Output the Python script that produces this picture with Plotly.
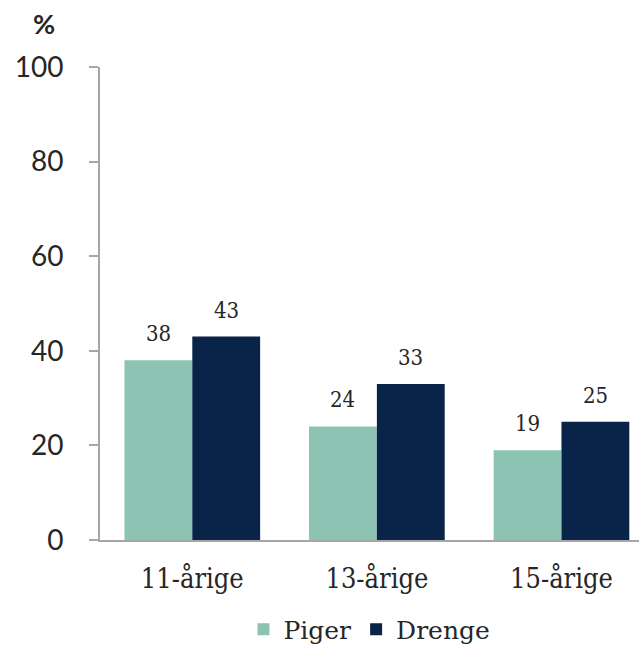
import plotly.graph_objects as go

categories = ["11-årige", "13-årige", "15-årige"]
piger = [38, 24, 19]
drenge = [43, 33, 25]
y_ticks = [0, 20, 40, 60, 80, 100]

serif = "DejaVu Serif Condensed, DejaVu Serif, serif"
sans = "Lato"
c_piger = "#8CC3B2"
c_drenge = "#0A2449"
axis_gray = "#A6A6A6"
txt = "#262626"

fig = go.Figure()
fig.add_trace(go.Bar(name="Piger", x=categories, y=piger, marker=dict(color=c_piger, line=dict(width=0))))
fig.add_trace(go.Bar(name="Drenge", x=categories, y=drenge, marker=dict(color=c_drenge, line=dict(width=0))))

# data labels
for i, cat in enumerate(categories):
    for vals, shift in ((piger, -34), (drenge, 34)):
        fig.add_annotation(x=cat, y=vals[i], xref="x", yref="y", text=str(vals[i]),
                           showarrow=False, xshift=shift, yshift=12, yanchor="bottom",
                           font=dict(family=serif, size=22, color=txt))

fig.add_annotation(xref="paper", yref="paper", x=-0.104, y=1.091, xanchor="center", yanchor="middle",
                   text="<b>%</b>", showarrow=False, font=dict(family=sans, size=27, color=txt))

fig.update_layout(
    width=639, height=649,
    margin=dict(l=100, r=0, t=67, b=109, autoexpand=False),
    paper_bgcolor="white", plot_bgcolor="white",
    font=dict(family=serif, color=txt),
    barmode="group", bargap=0.265, bargroupgap=0,
    showlegend=True,
    legend=dict(orientation="h", x=0.5, xanchor="center", yref="container", y=0.03, yanchor="middle",
                font=dict(family="DejaVu Serif", size=25, color=txt), traceorder="normal",
                itemwidth=30),
    xaxis=dict(range=[-0.5, 2.42], showline=True, linecolor=axis_gray, linewidth=2, automargin=False,
               ticks="", showgrid=False, tickfont=dict(family=serif, size=27, color=txt),
               ticklabelstandoff=14),
    yaxis=dict(range=[0, 100], tickvals=y_ticks, showline=True, linecolor=axis_gray, linewidth=2,
               automargin=False,
               ticks="outside", ticklen=9, tickwidth=2, tickcolor=axis_gray, showgrid=False,
               zeroline=False, tickfont=dict(family=sans, size=28, color=txt),
               ticklabelstandoff=20),
)

fig.write_html("out.html", config={"displayModeBar": False},
               post_script="document.body.style.margin='0';document.body.style.overflow='hidden';")
